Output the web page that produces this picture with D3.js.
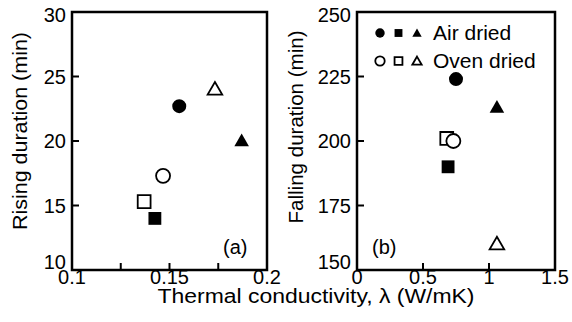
<!DOCTYPE html>
<html>
<head>
<meta charset="utf-8">
<script src="https://cdn.jsdelivr.net/npm/d3@7"></script>
<style>
  body { margin: 0; background: #fff; }
  text { font-family: "Liberation Sans", Arial, sans-serif; fill: #000; }
</style>
</head>
<body>
<svg id="chart" width="572" height="322"></svg>
<script>
// marker order: circle, square, triangle
var shapes = ["circle", "square", "triangle"];

// (a) rising duration vs thermal conductivity
var airRiseX = [0.155, 0.1425, 0.187];
var airRiseY = [22.7, 14.0, 20.0];
var ovenRiseX = [0.1467, 0.137, 0.1733];
var ovenRiseY = [17.3, 15.3, 24.0];

// (b) falling duration
var airFallX = [0.75, 0.69, 1.06];
var airFallY = [224, 190, 213];
var ovenFallX = [0.73, 0.68, 1.06];
var ovenFallY = [200, 201, 160];

var ticksAx = [0.1, 0.125, 0.15, 0.175, 0.2];
var labelsAx = ["0.1", "", "0.15", "", "0.2"];
var ticksAy = [10, 15, 20, 25, 30];
var ticksBx = [0, 0.5, 1, 1.5];
var labelsBx = ["0", "0.5", "1", "1.5"];
var ticksBy = [150, 175, 200, 225, 250];

var legendNames = ["Air dried", "Oven dried"];

var svg = d3.select("#chart");
var FS = 20;

var symType = { circle: d3.symbolCircle, square: d3.symbolSquare, triangle: d3.symbolTriangle };
var symSize = { circle: 154, square: 165, triangle: 92 };
var legSize = { circle: 70, square: 62, triangle: 38 };

function marker(g, shape, x, y, filled, size) {
  g.append("path")
    .attr("d", d3.symbol().type(symType[shape]).size(size[shape])())
    .attr("transform", "translate(" + x + "," + (shape == "triangle" ? y + 1 : y) + ")")
    .attr("fill", filled ? "#000" : "#fff")
    .attr("stroke", "#000")
    .attr("stroke-width", filled ? 0 : 1.8);
}

function panel(opt) {
  var x = d3.scaleLinear().domain(opt.xd).range(opt.xr);
  var y = d3.scaleLinear().domain(opt.yd).range([270, 12]);
  var g = svg.append("g");

  // inward ticks
  opt.xt.forEach(function (t) {
    g.append("line").attr("x1", x(t)).attr("x2", x(t)).attr("y1", 270).attr("y2", 263)
      .attr("stroke", "#000").attr("stroke-width", 2);
  });
  opt.yt.forEach(function (t) {
    g.append("line").attr("x1", opt.xr[0]).attr("x2", opt.xr[0] + 7).attr("y1", y(t)).attr("y2", y(t))
      .attr("stroke", "#000").attr("stroke-width", 2);
  });
  g.append("rect").attr("x", opt.xr[0]).attr("y", 12)
    .attr("width", opt.xr[1] - opt.xr[0]).attr("height", 258)
    .attr("fill", "none").attr("stroke", "#000").attr("stroke-width", 2.5);

  opt.xt.forEach(function (t, i) {
    if (!opt.xl[i]) return;
    g.append("text").attr("x", x(t)).attr("y", 284).attr("text-anchor", "middle")
      .attr("font-size", FS).text(opt.xl[i]);
  });
  var n = opt.yt.length;
  opt.yt.forEach(function (t, i) {
    // end labels are nudged inside the frame like the original
    var dy = i == 0 ? -8 : (i == n - 1 ? 3 : 0);
    g.append("text").attr("x", opt.xr[0] - 6).attr("y", y(t) + 7 + dy).attr("text-anchor", "end")
      .attr("font-size", FS).text(t);
  });

  // y title
  g.append("text").attr("transform", "translate(" + opt.titleX + "," + opt.titleY + ") rotate(-90)")
    .attr("text-anchor", "middle").attr("font-size", FS)
    .attr("textLength", opt.titleLen).attr("lengthAdjust", "spacingAndGlyphs").text(opt.title);

  g.append("text").attr("x", opt.tagX).attr("y", 254).attr("font-size", FS).text(opt.tag);

  for (var i = 0; i < shapes.length; i++) {
    marker(g, shapes[i], x(opt.airX[i]), y(opt.airY[i]), true, symSize);
  }
  opt.ovenOrder.forEach(function (i) {
    marker(g, shapes[i], x(opt.ovenX[i]), y(opt.ovenY[i]), false, symSize);
  });
}

panel({
  xd: [0.1, 0.2], xr: [72, 267], yd: [10, 30],
  xt: ticksAx, xl: labelsAx, yt: ticksAy,
  title: "Rising duration (min)", titleX: 27, titleY: 131, titleLen: 198,
  tag: "(a)", tagX: 223,
  airX: airRiseX, airY: airRiseY, ovenX: ovenRiseX, ovenY: ovenRiseY, ovenOrder: [0, 1, 2]
});

panel({
  xd: [0, 1.5], xr: [357, 555], yd: [150, 250],
  xt: ticksBx, xl: labelsBx, yt: ticksBy,
  title: "Falling duration (min)", titleX: 303, titleY: 127, titleLen: 193,
  tag: "(b)", tagX: 372,
  airX: airFallX, airY: airFallY, ovenX: ovenFallX, ovenY: ovenFallY, ovenOrder: [1, 0, 2]
});

// legend
var leg = svg.append("g");
legendNames.forEach(function (name, r) {
  var ly = 33 + r * 28;
  shapes.forEach(function (s, i) {
    marker(leg, s, 380 + i * 18.5, ly, r == 0, legSize);
  });
  leg.append("text").attr("x", 433).attr("y", ly + 7).attr("font-size", 21).text(name);
});

svg.append("text").attr("x", 316).attr("y", 303).attr("text-anchor", "middle")
  .attr("font-size", FS).attr("textLength", 317).attr("lengthAdjust", "spacingAndGlyphs")
  .text("Thermal conductivity, \u03bb (W/mK)");
</script>
</body>
</html>
